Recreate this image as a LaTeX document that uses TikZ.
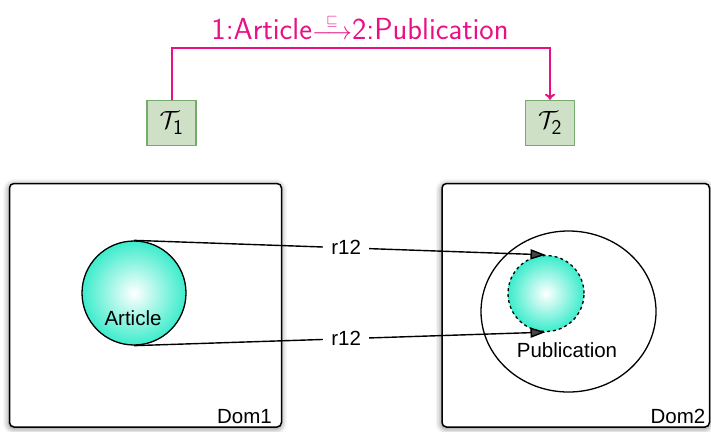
\documentclass[tikz,border=0pt]{standalone}
\usepackage{amsmath}
\usepackage{fontspec}
\newfontfamily\helv{Liberation Sans}
\usetikzlibrary{shadows.blur,shapes.geometric,arrows.meta}
\definecolor{relpink}{RGB}{232,16,132}
\definecolor{typefill}{RGB}{206,224,198}
\definecolor{typeedge}{RGB}{118,170,108}
\definecolor{ballcyan}{RGB}{60,236,204}
\begin{document}
\begin{tikzpicture}[x=1pt,y=-1pt,
  typebox/.style={draw=typeedge,fill=typefill,line width=1.4pt,minimum width=49pt,minimum height=45pt,inner sep=0pt,font=\fontsize{30}{34}\selectfont},
  dombox/.style={draw=black,fill=white,line width=1.5pt,rounded corners=4.5pt,
    blur shadow={shadow xshift=-0.5pt,shadow yshift=-1.5pt,shadow blur radius=6pt,shadow opacity=55}},
  ball/.style={circle,draw=black,line width=1.3pt,inner color=white,outer color=ballcyan,inner sep=0pt},
  lbl/.style={font=\helv\fontsize{20.5}{24}\selectfont,inner sep=0pt},
  rlbl/.style={lbl,fill=white,inner xsep=8pt,inner ysep=2pt},
  arr/.style={line width=1.4pt,-{Triangle[length=15pt,width=10pt]},shorten >=0.5pt},
  rel/.style={draw=relpink,line width=2pt,-{To[length=6pt,width=10pt]}}
]
\useasboundingbox (0,0) rectangle (711,431);

% type nodes and the subsumption between them
\node[typebox] (T1) at (171.5,123) {$\mathcal{T}_{\mathsf{1}}$};
\node[typebox] (T2) at (550,123) {$\mathcal{T}_{\mathsf{2}}$};
\coordinate (relmid) at (361,48);
\draw[rel] (T1.north) |- (relmid) -| (T2.north);
\node[text=relpink,font=\sffamily\fontsize{30.5}{34}\selectfont,inner sep=0pt] (reltxt) at (360,27)
  {1:Article$\overset{\scriptscriptstyle\sqsubseteq}{\longrightarrow}$2:Publication};

% domains
\draw[dombox] (9.5,183.5) rectangle (281.5,427);
\draw[dombox] (442,183.5) rectangle (709.5,427);
\node[lbl,anchor=south east] (d1) at (272,424) {Dom1};
\node[lbl,anchor=south east] (d2) at (705.5,424) {Dom2};

% concepts
\node[ball,minimum size=104pt] (art) at (134,293) {};
\node[lbl] (artlbl) at (133,318) {Article};
\node[ellipse,draw=black,line width=1.3pt,minimum width=175pt,minimum height=161pt,inner sep=0pt] (pubext) at (568.5,311.5) {};
\node[ball,dashed,minimum size=76pt] (pub) at (546,293.5) {};
\node[lbl] (publbl) at (567,350) {Publication};

% role mappings
\draw[arr] (art.north) -- node[rlbl,pos=0.515] {r12} (pub.north);
\draw[arr] (art.south) -- node[rlbl,pos=0.515] {r12} (pub.south);
\end{tikzpicture}
\end{document}
